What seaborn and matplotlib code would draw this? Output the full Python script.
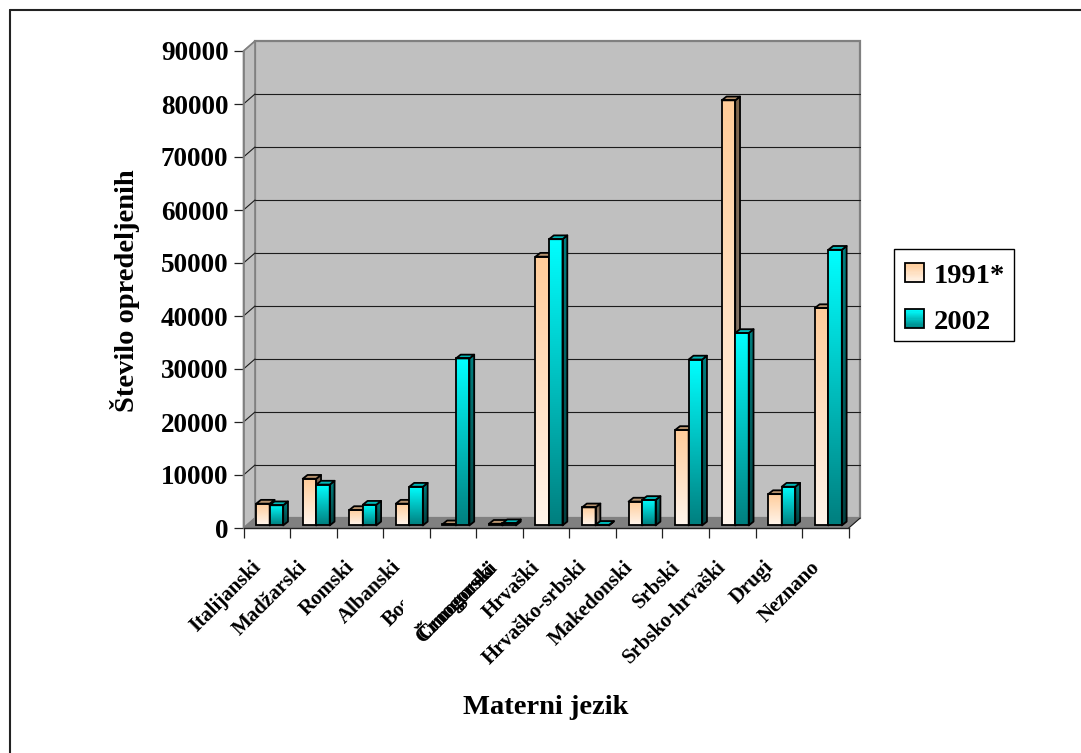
import numpy as np
import pandas as pd
import matplotlib
matplotlib.use("Agg")
import matplotlib.pyplot as plt
import matplotlib.patheffects as pe
from matplotlib.colors import to_rgb
from matplotlib.legend_handler import HandlerBase
from matplotlib.lines import Line2D
from matplotlib.patches import Patch, Polygon, Rectangle
from matplotlib.transforms import Affine2D, Bbox
import seaborn as sns

languages = ["Italijanski", "Madžarski", "Romski", "Albanski", "Bosanski",
             "Črnogorski", "Hrvaški", "Hrvaško-srbski", "Makedonski",
             "Srbski", "Srbsko-hrvaški", "Drugi", "Neznano"]
speakers_1991 = [4100, 8800, 2900, 4100, 200, 300, 50700, 3400, 4500,
                 18000, 80200, 5900, 41000]
speakers_2002 = [3800, 7700, 3900, 7300, 31500, 400, 54000, 100, 4800,
                 31300, 36300, 7300, 52000]
series_names = ["1991*", "2002"]
y_ticks = [0, 10000, 20000, 30000, 40000, 50000, 60000, 70000, 80000, 90000]
y_title = "Število opredeljenih"
x_title = "Materni jezik"

top_colors = {"1991*": "#FFCC99", "2002": "#00FFFF"}
bottom_colors = {"1991*": "#FFF5EC", "2002": "#007F7F"}
WALL = "#C0C0C0"
FLOOR = "#808080"
W, H = 1081, 753

sns.set_theme(style="ticks")
plt.rcParams["font.family"] = ["Liberation Serif", "DejaVu Serif"]
plt.rcParams["font.weight"] = "bold"
plt.rcParams["text.color"] = "black"
plt.rcParams["axes.labelcolor"] = "black"
plt.rcParams["xtick.labelcolor"] = "black"
plt.rcParams["ytick.labelcolor"] = "black"

fig = plt.figure(figsize=(W / 100, H / 100), dpi=100, facecolor="white")
ax_l, ax_r, ax_t, ax_b = 243.5, 848.7, 51.0, 528.0
ax = fig.add_axes([ax_l / W, 1 - ax_b / H, (ax_r - ax_l) / W, (ax_b - ax_t) / H])

table = pd.DataFrame({
    "jezik": languages * 2,
    "leto": [series_names[0]] * len(languages) + [series_names[1]] * len(languages),
    "stevilo": speakers_1991 + speakers_2002,
})
sns.barplot(data=table, x="jezik", y="stevilo", hue="leto", order=languages,
            hue_order=series_names, width=0.58, gap=0, dodge=True,
            errorbar=None, saturation=1, palette=top_colors, legend=False, ax=ax)

ax.set_xlim(-0.5, len(languages) - 0.5)
ax.set_ylim(0, 90000)
px_x = (len(languages)) / (ax_r - ax_l)   # data units per pixel, horizontal
px_y = 90000 / (ax_b - ax_t)              # data units per pixel, vertical


def dx(pixels):
    return pixels * px_x


def dy(pixels):
    return pixels * px_y


# Box walls: the plane of the axes is the front, the walls recede up and right.
back_x, back_y = dx(11.5), dy(10)
x0, x1 = -0.5, len(languages) - 0.5
ax.add_patch(Polygon([(x0 + back_x, back_y), (x1 + back_x, back_y),
                      (x1 + back_x, 90000 + back_y), (x0 + back_x, 90000 + back_y)],
                     facecolor=WALL, edgecolor=FLOOR, lw=1.6, zorder=1, clip_on=False))
ax.add_patch(Polygon([(x0, 0), (x0 + back_x, back_y),
                      (x0 + back_x, 90000 + back_y), (x0, 90000)],
                     facecolor=WALL, edgecolor=FLOOR, lw=1.2, zorder=1, clip_on=False))
ax.add_patch(Polygon([(x0, 0), (x1, 0), (x1 + back_x, back_y), (x0 + back_x, back_y)],
                     facecolor=FLOOR, edgecolor=FLOOR, lw=0.5, zorder=1.1, clip_on=False))
for v in y_ticks[1:-1]:
    ax.plot([x0 + back_x, x1 + back_x], [v + back_y] * 2, color="#1c1c1c", lw=0.8,
            zorder=2, clip_on=False)
for v in y_ticks[1:]:
    ax.plot([x0, x0 + back_x], [v, v + back_y], color="#1c1c1c" if v < 90000 else FLOOR,
            lw=0.8, zorder=2, clip_on=False)
ax.plot([x1, x1 + back_x], [0, back_y], color="#1c1c1c", lw=0.8, zorder=2, clip_on=False)


def ramp(name, shade=1.0):
    top = np.array(to_rgb(top_colors[name])) * shade
    bottom = np.array(to_rgb(bottom_colors[name])) * shade
    t = np.linspace(0, 1, 128)[:, None, None]
    return top[None, None, :] * (1 - t) + bottom[None, None, :] * t


# Each flat seaborn bar becomes a small prism with a vertical colour ramp.
shift_x, shift_y = dx(2.9), dy(2.6)
depth_x, depth_y = dx(4.8), dy(3.8)
edge = 1.3
for s, (name, container) in enumerate(zip(series_names, ax.containers)):
    for bar in container:
        left = bar.get_x() + shift_x
        w, h = bar.get_width(), bar.get_height()
        z = 5 + 2 * (left + 1) + s * 0.5
        base = shift_y
        right = left + w
        ax.imshow(ramp(name), extent=[left, right, base, base + h], origin="upper",
                  aspect="auto", interpolation="bilinear", zorder=z)
        side_poly = Polygon([(right, base), (right + depth_x, base + depth_y),
                             (right + depth_x, base + h + depth_y), (right, base + h)],
                            closed=True, facecolor="none", edgecolor="black", lw=edge,
                            zorder=z + 0.02, joinstyle="round", clip_on=False)
        side = ax.imshow(ramp(name, 0.5), extent=[right, right + depth_x, base, base + h + depth_y],
                         origin="upper", aspect="auto", interpolation="bilinear", zorder=z)
        ax.add_patch(side_poly)
        side.set_clip_path(side_poly)
        ax.add_patch(Polygon([(left, base + h), (right, base + h),
                              (right + depth_x, base + h + depth_y),
                              (left + depth_x, base + h + depth_y)],
                             closed=True, facecolor=np.array(to_rgb(top_colors[name])) * 0.72,
                             edgecolor="black", lw=edge, zorder=z + 0.03,
                             joinstyle="round", clip_on=False))
        bar.set_xy((left, base))
        bar.set_facecolor("none")
        bar.set_edgecolor("black")
        bar.set_linewidth(edge)
        bar.set_zorder(z + 0.04)

ax.set_xlim(x0, x1)
ax.set_ylim(0, 90000)

# Axis frame: ticks fall on category boundaries, labels on category centres.
for spine in ("top", "right"):
    ax.spines[spine].set_visible(False)
ax.spines["left"].set_color(FLOOR)
ax.spines["left"].set_linewidth(1.2)
ax.spines["left"].set_zorder(3)
ax.spines["bottom"].set_color("#222222")
ax.spines["bottom"].set_linewidth(1.0)
ax.spines["bottom"].set_zorder(3)
ax.patch.set_visible(False)

ax.set_yticks(y_ticks)
ax.set_yticklabels([str(v) for v in y_ticks], fontsize=19.5, fontweight="bold")
ax.tick_params(axis="y", length=7.2, width=0.9, color="#222222", pad=3.6)
ax.set_xticks(np.arange(len(languages) + 1) - 0.5)
ax.set_xticklabels([""] * (len(languages) + 1))
ax.set_xticks(np.arange(len(languages)), labels=languages, minor=True)
ax.tick_params(axis="x", which="major", length=7.2, width=0.9, color="#222222")
ax.tick_params(axis="x", which="minor", length=0, pad=16)

for label in ax.get_xticklabels(minor=True):
    label.set(rotation=45, ha="right", va="top", rotation_mode="anchor",
              fontsize=15, fontweight="bold")
    label.set_transform(label.get_transform() + Affine2D().translate(-16, -7))
    if label.get_text() == "Bosanski":
        # The long label is cut off where the next one begins.
        label.set_transform(label.get_transform() + Affine2D().translate(-1, -3))
        label.set_clip_on(True)
        label.set_clip_box(Bbox.from_extents(0, 0, 403, H))
    if label.get_text() == "Črnogorski":
        label.set_transform(label.get_transform() + Affine2D().translate(1, 1))
        label.set_path_effects([
            pe.Stroke(linewidth=0.2, foreground="black", offset=(-2.0, -2.0)),
            pe.Normal(),
        ])

ax.set_ylabel(y_title, fontsize=20.5, fontweight="bold", va="center")
ax.yaxis.set_label_coords((125 - ax_l) / (ax_r - ax_l), (ax_b - 291) / (ax_b - ax_t))
ax.set_xlabel(x_title, fontsize=20.5, fontweight="bold", va="center")
ax.xaxis.set_label_coords((546 - ax_l) / (ax_r - ax_l), (ax_b - 708) / (ax_b - ax_t))


class RampHandler(HandlerBase):
    """Legend key with the same vertical ramp as the bars."""

    def create_artists(self, legend, orig_handle, xdescent, ydescent, width, height,
                       fontsize, trans):
        name = orig_handle.get_label()
        colors = ramp(name)[:, 0, :]
        steps = 16
        parts = []
        for i in range(steps):
            c = colors[int(i / steps * len(colors))]
            parts.append(Rectangle((-xdescent, -ydescent + height * (1 - (i + 1) / steps)),
                                   width, height / steps + 0.3, facecolor=c,
                                   edgecolor="none", transform=trans))
        parts.append(Rectangle((-xdescent, -ydescent), width, height, facecolor="none",
                               edgecolor="black", lw=1.3, transform=trans))
        return parts


# Legend frame is drawn separately so its size stays independent of the entries.
fig.add_artist(Rectangle((894 / W, 1 - 340.5 / H), 120 / W, 91.5 / H, facecolor="white",
                         edgecolor="black", lw=1.0, transform=fig.transFigure))
handles = [Patch(label=n) for n in series_names]
legend = fig.legend(handles=handles, labels=series_names, loc="upper left",
                    bbox_to_anchor=(894 / W, 1 - 252 / H), bbox_transform=fig.transFigure,
                    handler_map={Patch: RampHandler()}, frameon=False, borderaxespad=0,
                    borderpad=0.4, handlelength=0.65, handleheight=0.65,
                    handletextpad=0.36, labelspacing=0.72,
                    prop={"family": ["Liberation Serif"], "weight": "bold", "size": 20.5})

# Chart area border survives only along the top and left edges.
fig.add_artist(Line2D([9.5 / W, 9.5 / W], [0, 1 - 9.5 / H], color="#222222", lw=1.5))
fig.add_artist(Line2D([9.5 / W, 1], [1 - 9.5 / H, 1 - 9.5 / H], color="#222222", lw=1.5))

fig.savefig("out.png", dpi=100, facecolor="white")
